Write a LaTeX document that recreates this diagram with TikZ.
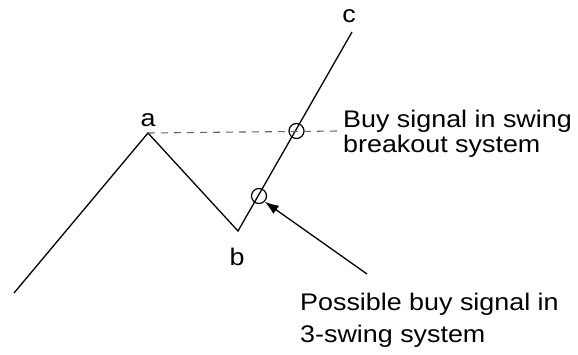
\documentclass[tikz,border=0pt]{standalone}
\usepackage{fontspec}
\setmainfont[FakeStretch=1.12]{Liberation Sans}
\usetikzlibrary{arrows.meta}
\begin{document}
\begin{tikzpicture}[x=1pt,y=-1pt,
  wave/.style={line width=1.3pt,line join=miter},
  lbl/.style={inner sep=0pt,font=\fontsize{24}{26}\selectfont},
  txt/.style={inner sep=0pt,anchor=base west,font=\fontsize{24}{26}\selectfont},
  sig/.style={circle,draw,line width=1.2pt,minimum size=15pt,inner sep=0pt},
  guide/.style={dashed,dash pattern=on 7pt off 6pt,line width=1.1pt,draw=black!60}]
\useasboundingbox (0,0) rectangle (578,354);
\coordinate (S) at (14,293);
\coordinate (A) at (148,133);
\coordinate (B) at (238,231);
\coordinate (C) at (352,32);
\coordinate (E) at (339,131);
\coordinate (T) at (367,274);
\draw[wave] (S) -- (A) -- (B) -- (C);
\node[sig] (U) at (296.5,131) {};
\node[sig] (L) at (259,196) {};
\draw[guide] (A) -- (E);
\draw[line width=1.3pt,-{Latex[length=14pt,width=10pt]}] (T) -- (L.south east);
\node[lbl] (la) at (148,120) {a};
\node[lbl] (lb) at (237,257) {b};
\node[lbl] (lc) at (349,16) {c};
\node[txt] (t1) at (343,127) {Buy signal in swing};
\node[txt] (t2) at (343,152) {breakout system};
\node[txt] (t3) at (300,310) {Possible buy signal in};
\node[txt] (t4) at (300,342) {3-swing system};
\end{tikzpicture}
\end{document}
